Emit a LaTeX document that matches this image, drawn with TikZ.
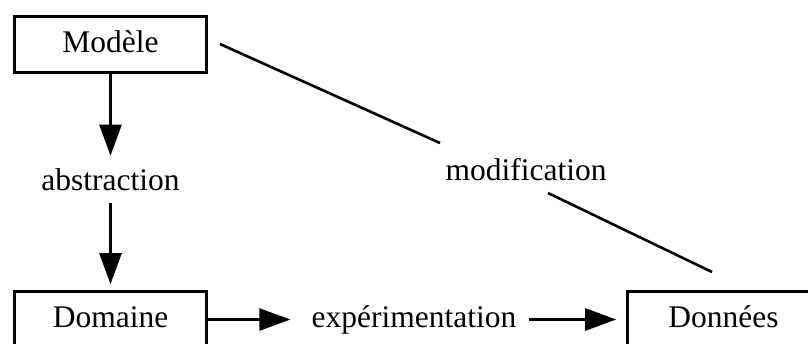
\documentclass[tikz,border=0pt]{standalone}
\usepackage{fontspec}
\setmainfont{Liberation Serif}
\usepackage{tikz}
\usetikzlibrary{arrows.meta}
\tikzset{
  main node/.style={rectangle,draw,minimum width=192pt,minimum height=56pt,
    text height=21pt,text depth=6pt,font=\fontsize{31.5pt}{36pt}\selectfont},
  label node/.style={inner xsep=0pt,inner ysep=12pt,text height=21pt,text depth=0pt,
    font=\fontsize{31.5pt}{36pt}\selectfont}
}
\begin{document}
\begin{tikzpicture}[x=1pt,y=-1pt,line width=2.6pt,>={Triangle[length=31pt,width=22pt]}]
  \useasboundingbox (0,0) rectangle (808,343);
  \node [main node] (modele) at (110.5,44.5) {Modèle};
  \node [main node] (domaine) at (110.5,319.5) {Domaine};
  \node [main node] (donnees) at (723.5,319.5) {Données};
  \node [label node] (abstraction) at (110.5,179.5) {abstraction};
  \node [label node,text depth=6pt] (experimentation) at (414,319.5) {expérimentation};
  \node [label node,anchor=base] (modification) at (526,180) {modification};
  % ends of the broken line
  \coordinate (modA) at (220,44);
  \coordinate (modB) at (440,143);
  \coordinate (modC) at (548,193);
  \coordinate (modD) at (712,272);
  \draw [->] (modele) -- (abstraction);
  \draw [->,shorten >=6pt] (abstraction) -- (domaine);
  \draw [->,shorten >=20pt] (domaine) -- (experimentation);
  \draw [->,shorten <=11pt,shorten >=10pt] (experimentation) -- (donnees);
  \draw (modA) -- (modB);
  \draw (modC) -- (modD);
\end{tikzpicture}
\end{document}
